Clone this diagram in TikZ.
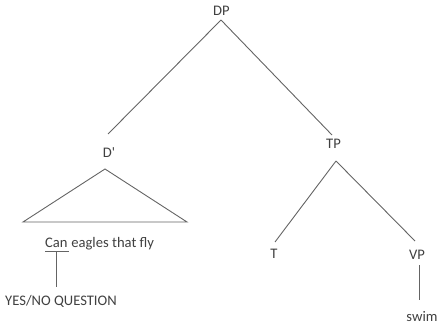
\documentclass[tikz,border=0pt]{standalone}
\usepackage{fontspec}
\newfontfamily\cf{Carlito}
\definecolor{txt}{RGB}{64,64,64}
\definecolor{ln}{RGB}{100,100,100}
\begin{document}
\begin{tikzpicture}[x=1pt,y=-1pt,
  lab/.style={font=\cf\fontsize{14.6}{17}\selectfont, text=txt, inner sep=0pt},
  edge/.style={draw=ln, line width=0.9pt}]
\useasboundingbox (0,0) rectangle (443,328);
% labels
\node[lab] (DP) at (221.5,11) {DP};
\node[lab] (Dbar) at (109,153) {D'};
\node[lab] (TP) at (333.5,143.5) {TP};
\node[lab] (T) at (274,253.5) {T};
\node[lab] (VP) at (417,255) {VP};
\node[lab] (swim) at (422,317) {swim};
\node[lab, anchor=base west] (can) at (45,247) {Can};
\node[lab, anchor=base west] (rest) at (can.base east) {\ eagles that fly};
\node[lab] (yn) at (61,301) {YES/NO QUESTION};
% connector end points
\coordinate (dpB) at (221,20);
\coordinate (dbT) at (108,134);
\coordinate (tpT) at (332,135);
\coordinate (tpB) at (336,161);
\coordinate (tT) at (275,242);
\coordinate (vpT) at (415,241);
\coordinate (vpB) at (419,265);
\coordinate (swT) at (419,300);
\coordinate (triA) at (105,169);
\coordinate (triL) at (23,222);
\coordinate (triR) at (187,222);
\coordinate (ulL) at (45,251);
\coordinate (ulR) at (69,251);
\coordinate (ulM) at (56,251);
\coordinate (ynT) at (56,287);
% edges
\draw[edge] (dpB) -- (dbT);
\draw[edge] (dpB) -- (tpT);
\draw[edge] (tpB) -- (tT);
\draw[edge] (tpB) -- (vpT);
\draw[edge] (vpB) -- (swT);
\draw[edge] (triA) -- (triL) -- (triR) -- cycle;
\draw[edge] (ulL) -- (ulR);
\draw[edge] (ulM) -- (ynT);
\end{tikzpicture}
\end{document}
